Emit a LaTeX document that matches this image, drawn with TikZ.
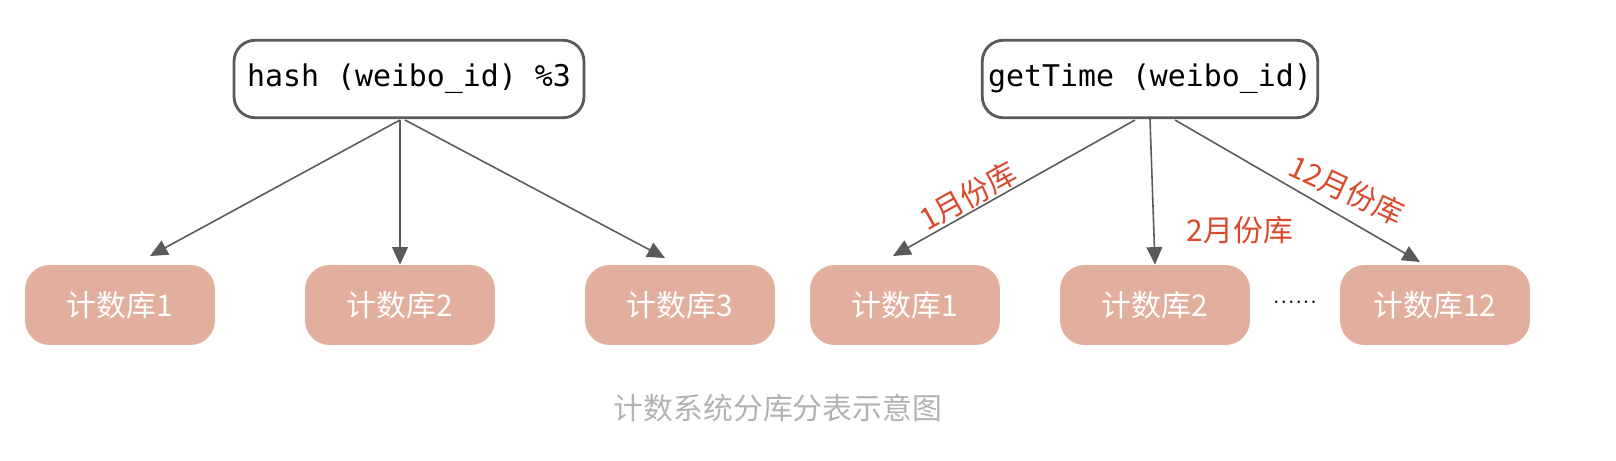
\documentclass[tikz,border=0pt]{standalone}
\usepackage{fontspec}
\newfontfamily\cjk{Noto Sans CJK SC}
\setmonofont{DejaVu Sans Mono}
\usetikzlibrary{arrows.meta}
\definecolor{dbfill}{HTML}{E2AE9E}
\definecolor{lblred}{HTML}{D9492C}
\definecolor{edgegray}{HTML}{5A5A5A}
\tikzset{
  func/.style={draw=edgegray, line width=1.6pt, rounded corners=12pt, fill=white,
    minimum width=7cm, minimum height=1.55cm, font=\ttfamily\fontsize{17}{17}\selectfont},
  db/.style={fill=dbfill, rounded corners=14pt, minimum width=3.8cm, minimum height=1.6cm,
    text=white, font=\cjk\fontsize{17}{17}\selectfont},
  link/.style={draw=edgegray, line width=0.9pt, -{Triangle[length=10pt,width=9pt]}},
  month/.style={text=lblred, font=\cjk\fontsize{17}{17}\selectfont}
}
\begin{document}
\begin{tikzpicture}[x=0.02cm,y=-0.02cm]
\useasboundingbox (0,0) rectangle (1616,460);
% left half
\node[func] (H) at (409,79) {hash (weibo\_id) \%3};
\node[db] (A1) at (120,305) {计数库1};
\node[db] (A2) at (400,305) {计数库2};
\node[db] (A3) at (680,305) {计数库3};
\coordinate (H1) at (400,120);
\coordinate (H3) at (405,120);
\draw[link] (H1) -- (150,256);
\draw[link] (H1) -- (A2.north);
\draw[link] (H3) -- (665,258);
% right half
\node[func, minimum width=6.6cm] (G) at (1150,79) {getTime (weibo\_id)};
\node[db] (B1) at (905,305) {计数库1};
\node[db] (B2) at (1155,305) {计数库2};
\node[db] (B3) at (1435,305) {计数库12};
\node[font=\fontsize{17}{17}\selectfont] (dots) at (1295,302) {......};
\coordinate (G1) at (1135,120);
\coordinate (G3) at (1175,120);
\draw[link] (G1) -- (893,256);
\draw[link] (G.south) -- (B2.north);
\draw[link] (G3) -- (1420,262);
\node[month, rotate=29] at (968,196) {1月份库};
\node[month] at (1240,230) {2月份库};
\node[month, rotate=-25] at (1347,190) {12月份库};
% caption
\node[text=gray!60, font=\cjk\fontsize{17}{17}\selectfont] (cap) at (778,408) {计数系统分库分表示意图};
\end{tikzpicture}
\end{document}
